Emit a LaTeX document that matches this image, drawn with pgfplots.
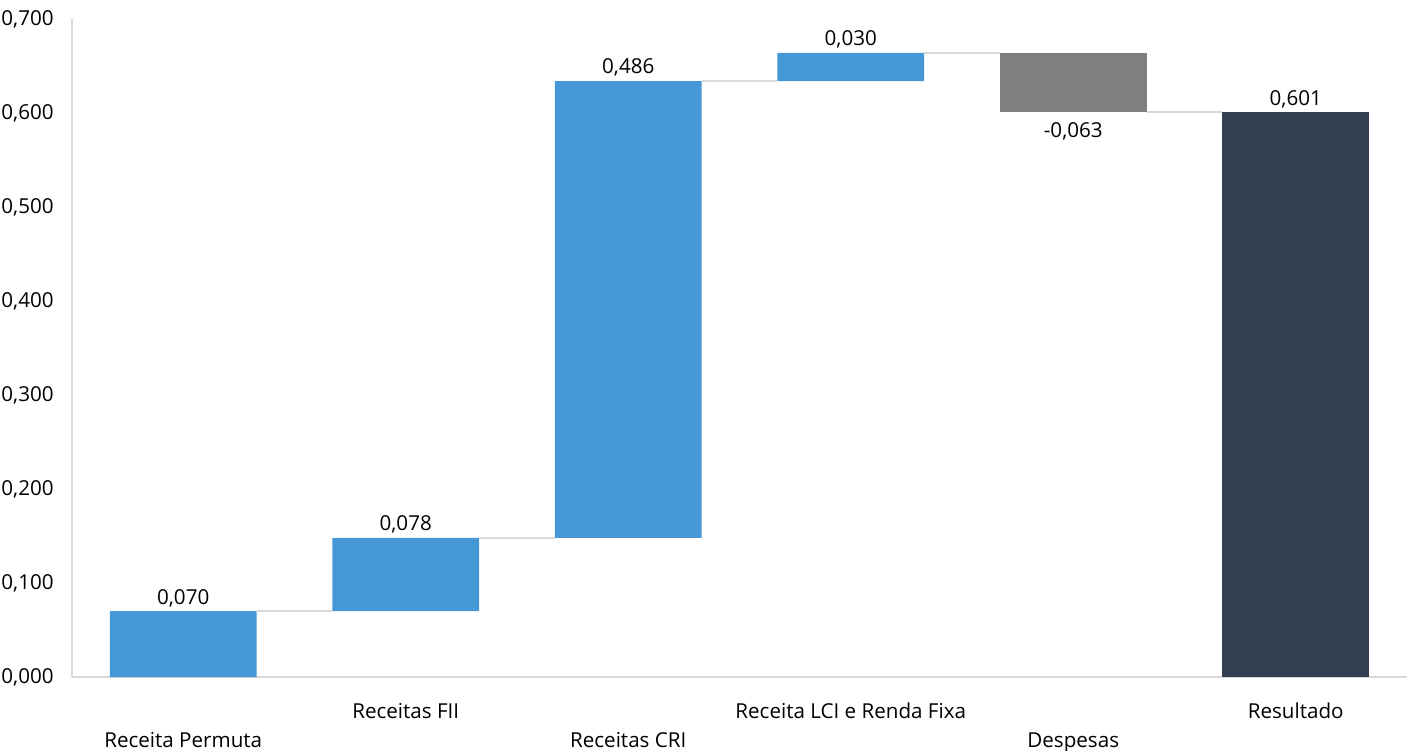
\documentclass[border=0pt]{standalone}
\usepackage{fontspec}
\setmainfont{Open Sans}
\usepackage{pgfplots}
\pgfplotsset{compat=1.18}
\definecolor{cblue}{HTML}{4597D5}
\definecolor{cgray}{HTML}{7F7F7F}
\definecolor{cdark}{HTML}{333F50}
\definecolor{cline}{HTML}{D9D9D9}
\pgfplotsset{
  common/.style={
    at={(0,0)}, anchor=south west,
    scale only axis, width=667.5pt, height=329pt,
    xmin=-0.5, xmax=5.5, ymin=0, ymax=0.7,
    font=\fontsize{10.3pt}{12pt}\selectfont,
  }
}
\begin{document}
\begin{tikzpicture}
\begin{axis}[common,
  axis x line*=bottom, axis y line*=left,
  axis line style={cline, line width=1pt},
  major tick length=0pt,
  xtick={0,1,2,3,4,5},
  xticklabels={{\raisebox{-14.5pt}[0pt][0pt]{Receita Permuta}},{Receitas FII},{\raisebox{-14.5pt}[0pt][0pt]{Receitas CRI}},{Receita LCI e Renda Fixa},{\raisebox{-14.5pt}[0pt][0pt]{Despesas}},{Resultado}},
  xticklabel style={anchor=base, yshift=-20.5pt, inner sep=0pt},
  ytick={0,0.1,0.2,0.3,0.4,0.5,0.6,0.7},
  yticklabel style={anchor=east, inner sep=0pt, xshift=-9pt},
  /pgf/number format/.cd, fixed, fixed zerofill, precision=3, use comma, assume math mode=true,
  /pgfplots/.cd,
  ybar stacked, bar width=0.66,
]
% invisible base
\addplot[draw=none, fill=none, forget plot] coordinates {(0,0) (1,0.070) (2,0.148) (3,0.634) (4,0.601) (5,0)};
% increases
\addplot[draw=none, fill=cblue] coordinates {(0,0.070) (1,0.078) (2,0.486) (3,0.030) (4,0) (5,0)};
% decreases
\addplot[draw=none, fill=cgray] coordinates {(0,0) (1,0) (2,0) (3,0) (4,0.063) (5,0)};
% total
\addplot[draw=none, fill=cdark] coordinates {(0,0) (1,0) (2,0) (3,0) (4,0) (5,0.601)};
\end{axis}
\begin{axis}[common, axis lines=none, ticks=none]
\addplot[cline, line width=1pt] coordinates {(0.33,0.070) (0.67,0.070)};
\addplot[cline, line width=1pt] coordinates {(1.33,0.148) (1.67,0.148)};
\addplot[cline, line width=1pt] coordinates {(2.33,0.634) (2.67,0.634)};
\addplot[cline, line width=1pt] coordinates {(3.33,0.664) (3.67,0.664)};
\addplot[cline, line width=1pt] coordinates {(4.33,0.601) (4.67,0.601)};
% value labels
\addplot[only marks, mark=none, point meta=explicit symbolic,
  nodes near coords, nodes near coords style={anchor=south, inner sep=0pt, yshift=2pt}]
  coordinates {(0,0.070)[0,070] (1,0.148)[0,078] (2,0.634)[0,486] (3,0.664)[0,030] (5,0.601)[0,601]};
\addplot[only marks, mark=none, point meta=explicit symbolic,
  nodes near coords, nodes near coords style={anchor=north, inner sep=0pt, yshift=-5pt}]
  coordinates {(4,0.601)[-0,063]};
\end{axis}
\pgfresetboundingbox
\path[use as bounding box] (-36pt,-36.5pt) rectangle (667.5pt,338.5pt);
\end{tikzpicture}
\end{document}
